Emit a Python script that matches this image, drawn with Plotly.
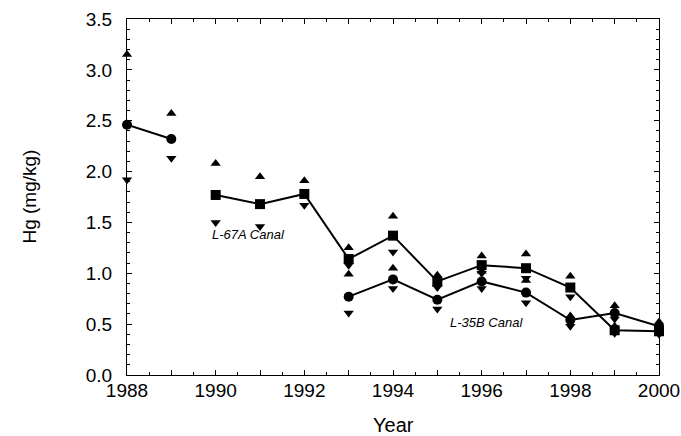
import plotly.graph_objects as go

# ---- data ----
years = [1988, 1989, 1990, 1991, 1992, 1993, 1994, 1995, 1996, 1997, 1998, 1999, 2000]

# early record (1988-1989) and L-35B Canal (1993-2000): mean, max, min
l35b_mean = [2.46, 2.32, None, None, None, 0.77, 0.94, 0.74, 0.92, 0.81, 0.54, 0.61, 0.48]
l35b_max  = [3.15, 2.57, None, None, None, 0.99, 1.05, 0.89, 1.02, 0.93, 0.58, 0.68, 0.50]
l35b_min  = [1.92, 2.13, None, None, None, 0.61, 0.85, 0.65, 0.85, 0.71, 0.48, 0.55, 0.43]

# L-67A Canal (1990-2000): mean, max, min
l67a_mean = [None, None, 1.77, 1.68, 1.78, 1.14, 1.37, 0.92, 1.08, 1.05, 0.86, 0.44, 0.43]
l67a_max  = [None, None, 2.08, 1.95, 1.91, 1.25, 1.56, 0.98, 1.17, 1.19, 0.97, 0.48, 0.52]
l67a_min  = [None, None, 1.50, 1.46, 1.67, 1.08, 1.21, 0.86, 1.00, 0.95, 0.77, 0.41, 0.40]

x_tickvals = years
x_ticktext = [str(y) if y % 2 == 0 else "" for y in years]
y_tickvals = [0.0, 0.5, 1.0, 1.5, 2.0, 2.5, 3.0, 3.5]
y_ticktext = ["0.0", "0.5", "1.0", "1.5", "2.0", "2.5", "3.0", "3.5"]

x_title = "Year"
y_title = "Hg (mg/kg)"
labels = [("L-67A Canal", 1990.73, 1.38), ("L-35B Canal", 1996.1, 0.52)]

fig = go.Figure()

for ys in (l35b_max, l67a_max):
    fig.add_trace(go.Scatter(x=years, y=ys, mode="markers", cliponaxis=False,
                             marker=dict(symbol="triangle-up", size=9, color="black"),
                             showlegend=False))
for ys in (l35b_min, l67a_min):
    fig.add_trace(go.Scatter(x=years, y=ys, mode="markers", cliponaxis=False,
                             marker=dict(symbol="triangle-down", size=9, color="black"),
                             showlegend=False))

fig.add_trace(go.Scatter(x=years, y=l67a_mean, mode="lines+markers", cliponaxis=False,
                         line=dict(color="black", width=2),
                         marker=dict(symbol="square", size=10, color="black"),
                         connectgaps=False, showlegend=False))
fig.add_trace(go.Scatter(x=years, y=l35b_mean, mode="lines+markers", cliponaxis=False,
                         line=dict(color="black", width=2),
                         marker=dict(symbol="circle", size=10, color="black"),
                         connectgaps=False, showlegend=False))

for text, xv, yv in labels:
    fig.add_annotation(x=xv, y=yv, text=f"<i>{text}</i>", showarrow=False,
                       font=dict(family="Liberation Sans, Arial, sans-serif", size=13, color="black"))

# axis titles placed as paper annotations (plot area: 532 x 356 px)
fig.add_annotation(x=0.5, y=-0.14, xref="paper", yref="paper", text=x_title,
                   showarrow=False, xanchor="center", yanchor="middle",
                   font=dict(size=20))
fig.add_annotation(x=-0.185, y=0.5, xref="paper", yref="paper", text=y_title,
                   showarrow=False, xanchor="center", yanchor="middle", textangle=-90,
                   font=dict(size=19))

font = "Liberation Sans, Arial, Helvetica, sans-serif"
fig.update_layout(
    width=681, height=436,
    margin=dict(l=127, r=22, t=19, b=61, autoexpand=False),
    paper_bgcolor="white", plot_bgcolor="white",
    font=dict(family=font, size=19, color="black"),
    xaxis=dict(range=[1988, 2000], tickvals=x_tickvals, ticktext=x_ticktext,
               ticks="inside", ticklen=5, tickcolor="black", tickwidth=1,
               minor=dict(dtick=0.5, ticks="inside", ticklen=3, tickcolor="black"),
               showline=True, linecolor="black", linewidth=1, mirror="allticks",
               showgrid=False, zeroline=False, automargin=False,
               ticklabelstandoff=-2,
               tickfont=dict(size=19)),
    yaxis=dict(range=[0, 3.5], tickvals=y_tickvals, ticktext=y_ticktext,
               ticks="inside", ticklen=5, tickcolor="black", tickwidth=1,
               minor=dict(dtick=0.1, ticks="inside", ticklen=3, tickcolor="black"),
               showline=True, linecolor="black", linewidth=1, mirror="allticks",
               showgrid=False, zeroline=False, automargin=False,
               ticklabelstandoff=10,
               tickfont=dict(size=19)),
)

fig.write_html("out.html")
